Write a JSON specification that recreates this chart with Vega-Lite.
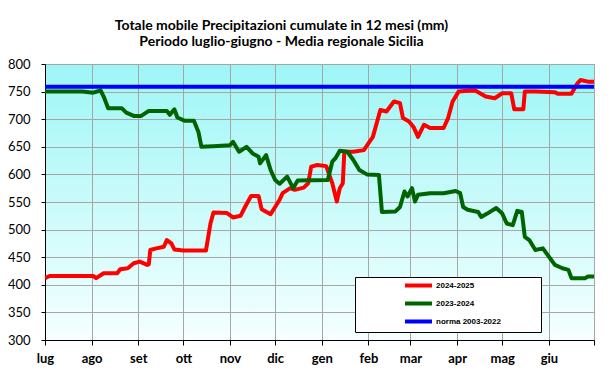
{
  "$schema": "https://vega.github.io/schema/vega-lite/v6.json",
  "width": 549,
  "height": 276,
  "autosize": "none",
  "padding": {"left": 45, "top": 64, "right": 21, "bottom": 45},
  "background": "white",
  "title": {
    "text": ["Totale mobile Precipitazioni cumulate in 12 mesi (mm)", "Periodo luglio-giugno - Media regionale Sicilia"],
    "anchor": "middle",
    "dx": -38,
    "font": "Lato",
    "fontSize": 14,
    "fontWeight": "bold",
    "lineHeight": 16,
    "color": "black",
    "offset": 9
  },
  "config": {
    "view": {
      "fill": {"gradient": "linear", "x1": 0, "y1": 0, "x2": 0, "y2": 1, "stops": [{"offset": 0, "color": "#9EF6F6"}, {"offset": 1, "color": "#F6FFFF"}]},
      "stroke": "#808080",
      "strokeWidth": 1
    }
  },
  "data": {
    "values": [
      {"serie": "2024-2025", "date": "2024-07-01", "mm": 412},
      {"serie": "2024-2025", "date": "2024-07-04", "mm": 416},
      {"serie": "2024-2025", "date": "2024-08-02", "mm": 416},
      {"serie": "2024-2025", "date": "2024-08-04", "mm": 412},
      {"serie": "2024-2025", "date": "2024-08-09", "mm": 421},
      {"serie": "2024-2025", "date": "2024-08-18", "mm": 421},
      {"serie": "2024-2025", "date": "2024-08-20", "mm": 428},
      {"serie": "2024-2025", "date": "2024-08-25", "mm": 430},
      {"serie": "2024-2025", "date": "2024-08-29", "mm": 439},
      {"serie": "2024-2025", "date": "2024-09-02", "mm": 442},
      {"serie": "2024-2025", "date": "2024-09-07", "mm": 436},
      {"serie": "2024-2025", "date": "2024-09-08", "mm": 437},
      {"serie": "2024-2025", "date": "2024-09-09", "mm": 463},
      {"serie": "2024-2025", "date": "2024-09-13", "mm": 466},
      {"serie": "2024-2025", "date": "2024-09-18", "mm": 469},
      {"serie": "2024-2025", "date": "2024-09-20", "mm": 481},
      {"serie": "2024-2025", "date": "2024-09-23", "mm": 475},
      {"serie": "2024-2025", "date": "2024-09-25", "mm": 464},
      {"serie": "2024-2025", "date": "2024-10-01", "mm": 462},
      {"serie": "2024-2025", "date": "2024-10-16", "mm": 462},
      {"serie": "2024-2025", "date": "2024-10-19", "mm": 511},
      {"serie": "2024-2025", "date": "2024-10-21", "mm": 531},
      {"serie": "2024-2025", "date": "2024-10-30", "mm": 530},
      {"serie": "2024-2025", "date": "2024-11-03", "mm": 522},
      {"serie": "2024-2025", "date": "2024-11-08", "mm": 525},
      {"serie": "2024-2025", "date": "2024-11-11", "mm": 541},
      {"serie": "2024-2025", "date": "2024-11-15", "mm": 561},
      {"serie": "2024-2025", "date": "2024-11-20", "mm": 561},
      {"serie": "2024-2025", "date": "2024-11-22", "mm": 537},
      {"serie": "2024-2025", "date": "2024-11-28", "mm": 528},
      {"serie": "2024-2025", "date": "2024-12-01", "mm": 541},
      {"serie": "2024-2025", "date": "2024-12-04", "mm": 554},
      {"serie": "2024-2025", "date": "2024-12-06", "mm": 566},
      {"serie": "2024-2025", "date": "2024-12-11", "mm": 575},
      {"serie": "2024-2025", "date": "2024-12-14", "mm": 572},
      {"serie": "2024-2025", "date": "2024-12-20", "mm": 576},
      {"serie": "2024-2025", "date": "2024-12-23", "mm": 584},
      {"serie": "2024-2025", "date": "2024-12-25", "mm": 614},
      {"serie": "2024-2025", "date": "2024-12-29", "mm": 617},
      {"serie": "2024-2025", "date": "2025-01-04", "mm": 615},
      {"serie": "2024-2025", "date": "2025-01-06", "mm": 599},
      {"serie": "2024-2025", "date": "2025-01-08", "mm": 584},
      {"serie": "2024-2025", "date": "2025-01-11", "mm": 551},
      {"serie": "2024-2025", "date": "2025-01-13", "mm": 575},
      {"serie": "2024-2025", "date": "2025-01-15", "mm": 584},
      {"serie": "2024-2025", "date": "2025-01-16", "mm": 641},
      {"serie": "2024-2025", "date": "2025-01-22", "mm": 641},
      {"serie": "2024-2025", "date": "2025-01-29", "mm": 644},
      {"serie": "2024-2025", "date": "2025-02-01", "mm": 656},
      {"serie": "2024-2025", "date": "2025-02-04", "mm": 668},
      {"serie": "2024-2025", "date": "2025-02-09", "mm": 717},
      {"serie": "2024-2025", "date": "2025-02-13", "mm": 714},
      {"serie": "2024-2025", "date": "2025-02-18", "mm": 732},
      {"serie": "2024-2025", "date": "2025-02-22", "mm": 729},
      {"serie": "2024-2025", "date": "2025-02-24", "mm": 702},
      {"serie": "2024-2025", "date": "2025-02-28", "mm": 696},
      {"serie": "2024-2025", "date": "2025-03-03", "mm": 686},
      {"serie": "2024-2025", "date": "2025-03-06", "mm": 668},
      {"serie": "2024-2025", "date": "2025-03-10", "mm": 690},
      {"serie": "2024-2025", "date": "2025-03-14", "mm": 684},
      {"serie": "2024-2025", "date": "2025-03-23", "mm": 684},
      {"serie": "2024-2025", "date": "2025-03-26", "mm": 702},
      {"serie": "2024-2025", "date": "2025-03-29", "mm": 732},
      {"serie": "2024-2025", "date": "2025-04-02", "mm": 750},
      {"serie": "2024-2025", "date": "2025-04-06", "mm": 751},
      {"serie": "2024-2025", "date": "2025-04-13", "mm": 752},
      {"serie": "2024-2025", "date": "2025-04-20", "mm": 741},
      {"serie": "2024-2025", "date": "2025-04-26", "mm": 738},
      {"serie": "2024-2025", "date": "2025-05-01", "mm": 747},
      {"serie": "2024-2025", "date": "2025-05-07", "mm": 747},
      {"serie": "2024-2025", "date": "2025-05-09", "mm": 718},
      {"serie": "2024-2025", "date": "2025-05-15", "mm": 718},
      {"serie": "2024-2025", "date": "2025-05-16", "mm": 750},
      {"serie": "2024-2025", "date": "2025-05-23", "mm": 750},
      {"serie": "2024-2025", "date": "2025-06-05", "mm": 749},
      {"serie": "2024-2025", "date": "2025-06-07", "mm": 746},
      {"serie": "2024-2025", "date": "2025-06-16", "mm": 746},
      {"serie": "2024-2025", "date": "2025-06-20", "mm": 765},
      {"serie": "2024-2025", "date": "2025-06-22", "mm": 771},
      {"serie": "2024-2025", "date": "2025-06-27", "mm": 768},
      {"serie": "2024-2025", "date": "2025-07-01", "mm": 768},
      {"serie": "2023-2024", "date": "2024-07-01", "mm": 750},
      {"serie": "2023-2024", "date": "2024-07-26", "mm": 750},
      {"serie": "2023-2024", "date": "2024-08-02", "mm": 748},
      {"serie": "2023-2024", "date": "2024-08-07", "mm": 752},
      {"serie": "2023-2024", "date": "2024-08-09", "mm": 741},
      {"serie": "2023-2024", "date": "2024-08-12", "mm": 720},
      {"serie": "2023-2024", "date": "2024-08-21", "mm": 720},
      {"serie": "2023-2024", "date": "2024-08-24", "mm": 712},
      {"serie": "2023-2024", "date": "2024-08-29", "mm": 706},
      {"serie": "2023-2024", "date": "2024-09-03", "mm": 706},
      {"serie": "2023-2024", "date": "2024-09-08", "mm": 715},
      {"serie": "2023-2024", "date": "2024-09-20", "mm": 715},
      {"serie": "2023-2024", "date": "2024-09-22", "mm": 708},
      {"serie": "2023-2024", "date": "2024-09-25", "mm": 718},
      {"serie": "2023-2024", "date": "2024-09-27", "mm": 703},
      {"serie": "2023-2024", "date": "2024-10-02", "mm": 697},
      {"serie": "2023-2024", "date": "2024-10-08", "mm": 697},
      {"serie": "2023-2024", "date": "2024-10-11", "mm": 677},
      {"serie": "2023-2024", "date": "2024-10-13", "mm": 650},
      {"serie": "2023-2024", "date": "2024-10-21", "mm": 651},
      {"serie": "2023-2024", "date": "2024-11-01", "mm": 653},
      {"serie": "2023-2024", "date": "2024-11-03", "mm": 659},
      {"serie": "2023-2024", "date": "2024-11-07", "mm": 641},
      {"serie": "2023-2024", "date": "2024-11-12", "mm": 650},
      {"serie": "2023-2024", "date": "2024-11-16", "mm": 638},
      {"serie": "2023-2024", "date": "2024-11-20", "mm": 632},
      {"serie": "2023-2024", "date": "2024-11-21", "mm": 620},
      {"serie": "2023-2024", "date": "2024-11-25", "mm": 635},
      {"serie": "2023-2024", "date": "2024-11-28", "mm": 608},
      {"serie": "2023-2024", "date": "2024-12-01", "mm": 590},
      {"serie": "2023-2024", "date": "2024-12-04", "mm": 583},
      {"serie": "2023-2024", "date": "2024-12-09", "mm": 596},
      {"serie": "2023-2024", "date": "2024-12-13", "mm": 575},
      {"serie": "2023-2024", "date": "2024-12-16", "mm": 589},
      {"serie": "2023-2024", "date": "2025-01-05", "mm": 590},
      {"serie": "2023-2024", "date": "2025-01-08", "mm": 623},
      {"serie": "2023-2024", "date": "2025-01-10", "mm": 629},
      {"serie": "2023-2024", "date": "2025-01-13", "mm": 643},
      {"serie": "2023-2024", "date": "2025-01-18", "mm": 641},
      {"serie": "2023-2024", "date": "2025-01-22", "mm": 626},
      {"serie": "2023-2024", "date": "2025-01-26", "mm": 608},
      {"serie": "2023-2024", "date": "2025-01-31", "mm": 600},
      {"serie": "2023-2024", "date": "2025-02-08", "mm": 599},
      {"serie": "2023-2024", "date": "2025-02-10", "mm": 532},
      {"serie": "2023-2024", "date": "2025-02-19", "mm": 533},
      {"serie": "2023-2024", "date": "2025-02-22", "mm": 541},
      {"serie": "2023-2024", "date": "2025-02-25", "mm": 569},
      {"serie": "2023-2024", "date": "2025-02-27", "mm": 560},
      {"serie": "2023-2024", "date": "2025-03-02", "mm": 575},
      {"serie": "2023-2024", "date": "2025-03-04", "mm": 551},
      {"serie": "2023-2024", "date": "2025-03-06", "mm": 563},
      {"serie": "2023-2024", "date": "2025-03-14", "mm": 566},
      {"serie": "2023-2024", "date": "2025-03-23", "mm": 566},
      {"serie": "2023-2024", "date": "2025-03-31", "mm": 570},
      {"serie": "2023-2024", "date": "2025-04-03", "mm": 566},
      {"serie": "2023-2024", "date": "2025-04-05", "mm": 541},
      {"serie": "2023-2024", "date": "2025-04-08", "mm": 536},
      {"serie": "2023-2024", "date": "2025-04-15", "mm": 532},
      {"serie": "2023-2024", "date": "2025-04-17", "mm": 523},
      {"serie": "2023-2024", "date": "2025-04-21", "mm": 529},
      {"serie": "2023-2024", "date": "2025-04-27", "mm": 539},
      {"serie": "2023-2024", "date": "2025-05-01", "mm": 529},
      {"serie": "2023-2024", "date": "2025-05-04", "mm": 511},
      {"serie": "2023-2024", "date": "2025-05-08", "mm": 508},
      {"serie": "2023-2024", "date": "2025-05-11", "mm": 534},
      {"serie": "2023-2024", "date": "2025-05-14", "mm": 532},
      {"serie": "2023-2024", "date": "2025-05-16", "mm": 487},
      {"serie": "2023-2024", "date": "2025-05-19", "mm": 481},
      {"serie": "2023-2024", "date": "2025-05-23", "mm": 463},
      {"serie": "2023-2024", "date": "2025-05-28", "mm": 466},
      {"serie": "2023-2024", "date": "2025-06-01", "mm": 451},
      {"serie": "2023-2024", "date": "2025-06-05", "mm": 436},
      {"serie": "2023-2024", "date": "2025-06-10", "mm": 430},
      {"serie": "2023-2024", "date": "2025-06-14", "mm": 427},
      {"serie": "2023-2024", "date": "2025-06-16", "mm": 412},
      {"serie": "2023-2024", "date": "2025-06-25", "mm": 412},
      {"serie": "2023-2024", "date": "2025-06-27", "mm": 415},
      {"serie": "2023-2024", "date": "2025-07-01", "mm": 415},
      {"serie": "norma 2003-2022", "date": "2024-07-01", "mm": 759},
      {"serie": "norma 2003-2022", "date": "2025-07-01", "mm": 759}
    ]
  },
  "mark": {"type": "line", "strokeWidth": 4, "strokeJoin": "round", "strokeCap": "butt", "clip": true},
  "encoding": {
    "x": {
      "field": "date",
      "type": "temporal",
      "scale": {"type": "utc", "domain": [{"year": 2024, "month": 7, "date": 1, "utc": true}, {"year": 2025, "month": 7, "date": 1, "utc": true}], "nice": false},
      "axis": {
        "title": null,
        "tickCount": {"interval": "month", "step": 1},
        "labelExpr": "utcyear(datum.value) == 2025 && utcmonth(datum.value) == 6 ? '' : ['gen','feb','mar','apr','mag','giu','lug','ago','set','ott','nov','dic'][utcmonth(datum.value)]",
        "grid": true,
        "gridColor": "#A6A6A6",
        "gridOpacity": 1,
        "gridWidth": 1,
        "domainColor": "black",
        "domainWidth": 1,
        "tickColor": "black",
        "tickSize": 5,
        "labelFont": "Lato",
        "labelFontSize": 13,
        "labelFontWeight": "bold",
        "labelColor": "black",
        "labelPadding": 7,
        "labelFlush": false,
        "labelOverlap": false
      }
    },
    "y": {
      "field": "mm",
      "type": "quantitative",
      "scale": {"domain": [300, 800], "nice": false, "zero": false},
      "axis": {
        "title": null,
        "values": [300, 350, 400, 450, 500, 550, 600, 650, 700, 750, 800],
        "grid": true,
        "gridColor": "#A6A6A6",
        "gridOpacity": 1,
        "gridWidth": 1,
        "domainColor": "black",
        "domainWidth": 1,
        "tickColor": "black",
        "tickSize": 4,
        "labelFont": "Lato",
        "labelFontSize": 13,
        "labelColor": "black",
        "labelPadding": 11,
        "labelFlush": false,
        "labelOverlap": false
      }
    },
    "color": {
      "field": "serie",
      "type": "nominal",
      "scale": {"domain": ["2024-2025", "2023-2024", "norma 2003-2022"], "range": ["#FF0000", "#006400", "#0000FF"]},
      "legend": {
        "orient": "none",
        "legendX": 310,
        "legendY": 213,
        "title": null,
        "symbolType": "M-3,0H3",
        "symbolSize": 81,
        "symbolStrokeWidth": 4,
        "symbolOffset": 55,
        "labelFont": "Liberation Sans",
        "labelFontSize": 8,
        "labelFontWeight": "bold",
        "labelColor": "black",
        "labelOffset": 11,
        "labelExpr": "datum.label + '                 \u200b'",
        "padding": 2,
        "rowPadding": 1,
        "strokeColor": "black",
        "fillColor": "white"
      }
    }
  }
}
